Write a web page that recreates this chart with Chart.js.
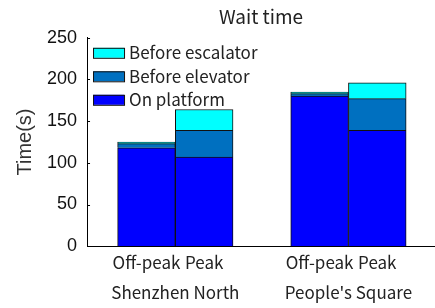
<!DOCTYPE html>
<html>
<head>
<meta charset="utf-8">
<script src="https://cdn.jsdelivr.net/npm/chart.js@4"></script>
<style>
  html, body { margin: 0; padding: 0; background: #fff; }
  #wrap { width: 435px; height: 308px; }
</style>
</head>
<body>
<div id="wrap"><canvas id="myChart" width="435" height="308"></canvas></div>
<script>
// bar labels (first row) and station labels (second row)
const periods = ['Off-peak', 'Peak', 'Off-peak', 'Peak'];
const stations = ['Shenzhen North', "People's Square"];

// wait time components, seconds
const onPlatform      = [118, 107, 180, 139];
const beforeElevator  = [5, 32, 3, 38];
const beforeEscalator = [2, 25, 2, 19];

const yTicks = [0, 50, 100, 150, 200, 250];

// slot of each bar on the x axis: two bars per station, one empty slot between
const slots = periods.map((p, i) => i + Math.floor(i / 2) + 1);
const stationSlots = [1.5, 4.5];

const xLabelFont = { family: 'Noto Sans CJK SC', size: 17 };

function points(vals) {
    return vals.map((v, i) => ({ x: slots[i], y: v }));
}

// little inward tick marks on the y axis
const innerTicks = {
    id: 'innerTicks',
    afterDraw(chart) {
        const c = chart.ctx;
        const y = chart.scales.y;
        c.save();
        c.strokeStyle = '#000';
        c.lineWidth = 1;
        yTicks.forEach(v => {
            const py = Math.round(y.getPixelForValue(v)) + 0.5;
            c.beginPath();
            c.moveTo(y.right, py);
            c.lineTo(y.right + 3, py);
            c.stroke();
        });
        c.restore();
    }
};

// legend drawn inside the plot, top-left, top entry = last dataset
const innerLegend = {
    id: 'innerLegend',
    afterDraw(chart) {
        const c = chart.ctx;
        const area = chart.chartArea;
        const sets = chart.data.datasets.slice().reverse();
        c.save();
        c.font = '17px "Noto Sans CJK SC"';
        c.textBaseline = 'middle';
        sets.forEach((ds, i) => {
            const cy = area.top + 15 + i * 23.5;
            const x0 = area.left + 6;
            c.fillStyle = ds.backgroundColor;
            c.fillRect(x0, cy - 5, 31, 10);
            c.strokeStyle = '#111';
            c.lineWidth = 1;
            c.strokeRect(x0 + 0.5, cy - 5 + 0.5, 31, 10);
            c.fillStyle = '#222';
            c.fillText(ds.label, x0 + 36, cy);
        });
        c.restore();
    }
};

const ctx = document.getElementById('myChart');

new Chart(ctx, {
    type: 'bar',
    data: {
        datasets: [
            {
                label: 'On platform',
                data: points(onPlatform),
                backgroundColor: '#0000FF',
                borderColor: '#111',
                borderWidth: 1
            },
            {
                label: 'Before elevator',
                data: points(beforeElevator),
                backgroundColor: '#0070C0',
                borderColor: '#111',
                borderWidth: 1
            },
            {
                label: 'Before escalator',
                data: points(beforeEscalator),
                backgroundColor: '#00FFFF',
                borderColor: '#111',
                borderWidth: 1
            }
        ]
    },
    options: {
        responsive: false,
        animation: false,
        categoryPercentage: 1,
        barPercentage: 1,
        layout: { padding: { top: 3, right: 0, left: 11, bottom: 1 } },
        scales: {
            x: {
                type: 'linear',
                stacked: true,
                offset: false,
                min: -0.03,
                max: 6,
                grid: { display: false, drawTicks: false },
                border: { display: true, color: '#000', width: 1 },
                afterBuildTicks: s => { s.ticks = slots.map(v => ({ value: v })); },
                ticks: {
                    autoSkip: false,
                    maxRotation: 0,
                    padding: 6,
                    color: '#222',
                    font: xLabelFont,
                    callback: v => periods[slots.indexOf(v)]
                }
            },
            x2: {
                type: 'linear',
                position: 'bottom',
                offset: false,
                weight: 1,
                min: -0.03,
                max: 6,
                grid: { display: false, drawTicks: false },
                border: { display: false },
                afterBuildTicks: s => { s.ticks = stationSlots.map(v => ({ value: v })); },
                ticks: {
                    autoSkip: false,
                    maxRotation: 0,
                    padding: 4,
                    color: '#222',
                    font: xLabelFont,
                    callback: v => stations[stationSlots.indexOf(v)]
                }
            },
            y: {
                stacked: true,
                min: 0,
                max: 250,
                grid: { display: false, drawTicks: false },
                border: { display: true, color: '#000', width: 1 },
                afterBuildTicks: s => { s.ticks = yTicks.map(v => ({ value: v })); },
                ticks: {
                    padding: 10,
                    color: '#111',
                    font: { family: 'Liberation Sans', size: 18 }
                },
                title: {
                    display: true,
                    text: 'Time(s)',
                    color: '#333',
                    padding: { top: 2, bottom: 0 },
                    font: { family: 'Liberation Sans', size: 20 }
                }
            }
        },
        plugins: {
            title: {
                display: true,
                fullSize: false,
                text: 'Wait time',
                color: '#222',
                padding: { top: 2, bottom: 10 },
                font: { family: 'Noto Sans CJK SC', size: 19, weight: 'normal' }
            },
            legend: { display: false },
            tooltip: { enabled: false }
        }
    },
    plugins: [innerTicks, innerLegend]
});
</script>
</body>
</html>
